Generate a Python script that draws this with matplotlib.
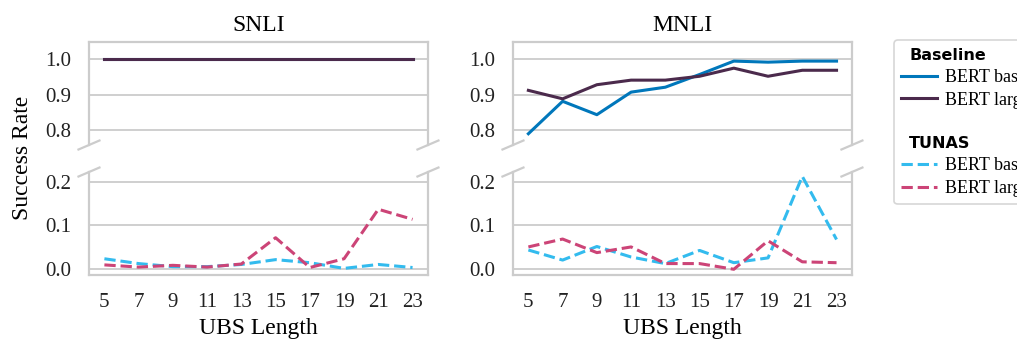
import numpy as np
import matplotlib; matplotlib.use('Agg')
import matplotlib.pyplot as plt
from matplotlib.lines import Line2D

plt.rcParams['font.family'] = ['Liberation Serif', 'DejaVu Serif']

UBS = [5, 7, 9, 11, 13, 15, 17, 19, 21, 23]
DATASETS = ['SNLI', 'MNLI']
# baseline (top panel) and TUNAS (bottom panel) success rates
base_bert_base = {'SNLI': [1.0]*10,
                  'MNLI': [0.789, 0.881, 0.843, 0.907, 0.921, 0.957, 0.995, 0.992, 0.995, 0.995]}
base_bert_large = {'SNLI': [1.0]*10,
                   'MNLI': [0.912, 0.888, 0.928, 0.941, 0.941, 0.952, 0.975, 0.952, 0.969, 0.969]}
tunas_bert_base = {'SNLI': [0.024, 0.013, 0.006, 0.006, 0.011, 0.022, 0.015, 0.002, 0.011, 0.004],
                   'MNLI': [0.044, 0.021, 0.052, 0.028, 0.013, 0.043, 0.015, 0.026, 0.212, 0.068]}
tunas_bert_large = {'SNLI': [0.010, 0.005, 0.009, 0.005, 0.012, 0.072, 0.004, 0.024, 0.137, 0.114],
                    'MNLI': [0.051, 0.069, 0.038, 0.051, 0.013, 0.013, 0.0, 0.065, 0.017, 0.015]}

C_BASE, C_LARGE = '#0077BB', '#4B2A4C'
C_TBASE, C_TLARGE = '#33BBEE', '#CC4477'
GRAY = '#cccccc'
LW = 2.2

fig = plt.figure(figsize=(10.17, 3.42), dpi=100)

def style(ax):
    for s in ax.spines.values(): s.set_color(GRAY); s.set_linewidth(1.6)
    ax.yaxis.grid(True, color=GRAY, lw=1.3); ax.set_axisbelow(True)
    ax.tick_params(length=0, labelsize=15, colors='#222222')
    ax.tick_params(axis='y', pad=13); ax.tick_params(axis='x', pad=13)

def brk(ax, y, px=10.5, py=4.5):
    # diagonal break marks on both side spines (half-size given in pixels)
    kw = dict(transform=ax.transAxes, color=GRAY, lw=1.6, clip_on=False)
    dx = px/ax.bbox.width; dy = py/ax.bbox.height
    for x in (0, 1):
        ax.plot([x-dx, x+dx], [y-dy, y+dy], **kw)

lefts = [0.0875, 0.5044]; w = 0.3333
for i, ds in enumerate(DATASETS):
    top = fig.add_axes([lefts[i], 0.576, w, 0.301])
    bot = fig.add_axes([lefts[i], 0.196, w, 0.301])
    top.plot(UBS, base_bert_base[ds], color=C_BASE, lw=LW)
    top.plot(UBS, base_bert_large[ds], color=C_LARGE, lw=LW)
    bot.plot(UBS, tunas_bert_base[ds], color=C_TBASE, lw=LW, ls='--')
    bot.plot(UBS, tunas_bert_large[ds], color=C_TLARGE, lw=LW, ls='--')
    top.set_ylim(0.757, 1.049); bot.set_ylim(-0.013, 0.222)
    top.set_yticks([0.8, 0.9, 1.0]); bot.set_yticks([0.0, 0.1, 0.2])
    for ax in (top, bot):
        style(ax); ax.set_xticks(UBS)
    top.spines['bottom'].set_visible(False); bot.spines['top'].set_visible(False)
    top.tick_params(axis='x', labelbottom=False)
    top.set_title(ds, fontsize=17, pad=8)
    bot.set_xlabel('UBS Length', fontsize=17, labelpad=4)
    brk(top, 0.0); brk(bot, 1.0)

fig.text(0.022, 0.538, 'Success Rate', rotation=90, fontsize=17, ha='center', va='center')

blank = Line2D([], [], color='none')
handles = [blank, Line2D([], [], color=C_BASE, lw=LW), Line2D([], [], color=C_LARGE, lw=LW), blank,
           blank, Line2D([], [], color=C_TBASE, lw=LW, ls='--'), Line2D([], [], color=C_TLARGE, lw=LW, ls='--')]
labels = ['Baseline', 'BERT base', 'BERT large', ' ', 'TUNAS', 'BERT base', 'BERT large']
leg = fig.legend(handles, labels, loc='upper left', bbox_to_anchor=(0.879, 0.883), fontsize=13,
                 handlelength=2.0, handletextpad=0.45, labelspacing=0.33, frameon=True, fancybox=True,
                 edgecolor=GRAY, borderpad=0.4, borderaxespad=0)
leg.get_frame().set_linewidth(1.2)
for txt in leg.get_texts():
    if txt.get_text() in ('Baseline', 'TUNAS'):
        txt.set_fontfamily('DejaVu Sans'); txt.set_fontweight('bold'); txt.set_fontsize(11.5)
    if txt.get_text() == ' ':
        txt.set_fontsize(6)
for col in leg._legend_handle_box.get_children():
    for row in col.get_children():
        h, t = row.get_children()
        if t.get_children()[0].get_text() in ('Baseline', 'TUNAS'):
            h.width = 0

fig.savefig('out.png', dpi=100)
